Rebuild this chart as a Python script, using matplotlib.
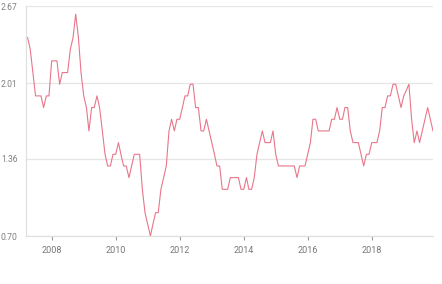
import matplotlib
matplotlib.use("Agg")
import matplotlib.pyplot as plt
import pandas as pd

start_month = "2007-04-01"
values = [
    2.4, 2.3, 2.1, 1.9, 1.9, 1.9, 1.8, 1.9, 1.9,            # Apr-Dec 2007
    2.2, 2.2, 2.2, 2.0, 2.1, 2.1, 2.1, 2.3, 2.4, 2.6, 2.4, 2.1,  # 2008
    1.9, 1.8, 1.6, 1.8, 1.8, 1.9, 1.8, 1.6, 1.4, 1.3, 1.3, 1.4,  # 2009
    1.4, 1.5, 1.4, 1.3, 1.3, 1.2, 1.3, 1.4, 1.4, 1.4, 1.1, 0.9,  # 2010
    0.8, 0.7, 0.8, 0.9, 0.9, 1.1, 1.2, 1.3, 1.6, 1.7, 1.6, 1.7,  # 2011
    1.7, 1.8, 1.9, 1.9, 2.0, 2.0, 1.8, 1.8, 1.6, 1.6, 1.7, 1.6,  # 2012
    1.5, 1.4, 1.3, 1.3, 1.1, 1.1, 1.1, 1.2, 1.2, 1.2, 1.2, 1.1,  # 2013
    1.1, 1.2, 1.1, 1.1, 1.2, 1.4, 1.5, 1.6, 1.5, 1.5, 1.5, 1.6,  # 2014
    1.4, 1.3, 1.3, 1.3, 1.3, 1.3, 1.3, 1.3, 1.2, 1.3, 1.3, 1.3,  # 2015
    1.4, 1.5, 1.7, 1.7, 1.6, 1.6, 1.6, 1.6, 1.6, 1.7, 1.7, 1.8,  # 2016
    1.7, 1.7, 1.8, 1.8, 1.6, 1.5, 1.5, 1.5, 1.4, 1.3, 1.4, 1.4,  # 2017
    1.5, 1.5, 1.5, 1.6, 1.8, 1.8, 1.9, 1.9, 2.0, 2.0, 1.9, 1.8,  # 2018
    1.9, 1.95, 2.0, 1.7, 1.5, 1.6, 1.5, 1.6, 1.7, 1.8, 1.7, 1.6,  # 2019
]
y_ticks = [0.70, 1.36, 2.01, 2.67]
y_tick_labels = ["0.70", "1.36", "2.01", "2.67"]
x_tick_years = [2008, 2010, 2012, 2014, 2016, 2018]

dates = pd.date_range(start_month, periods=len(values), freq="MS")

plt.rcParams['font.family'] = ['Roboto', 'DejaVu Sans']
fig = plt.figure(figsize=(4.42, 2.84), dpi=100)
ax = fig.add_axes([26/442, 1-236/284, (433-26)/442, (236-6)/284])

ax.plot(dates, values, color="#e8768a", linewidth=0.8)

ax.set_ylim(y_ticks[0], y_ticks[-1])
ax.set_yticks(y_ticks)
ax.set_yticklabels(y_tick_labels)
ax.set_xlim(pd.Timestamp("2007-03-14"), pd.Timestamp("2019-12-01"))
ax.set_xticks([pd.Timestamp(f"{y}-01-01") for y in x_tick_years])
ax.set_xticklabels([str(y) for y in x_tick_years])

ax.grid(axis="y", color="#e6e6e6", linewidth=0.9)
ax.set_axisbelow(True)
for s in ["top", "right"]:
    ax.spines[s].set_visible(False)
ax.spines["left"].set_color("#e0e0e0")
ax.spines["left"].set_linewidth(0.9)
ax.spines["bottom"].set_color("#e0e0e0")
ax.spines["bottom"].set_linewidth(0.9)

ax.tick_params(axis="y", length=0, pad=6, labelsize=6.2, labelcolor="#808080")
ax.tick_params(axis="x", length=3, width=0.8, color="#999999", pad=4.5,
               labelsize=6.5, labelcolor="#777777")

fig.savefig("out.png", dpi=100)
